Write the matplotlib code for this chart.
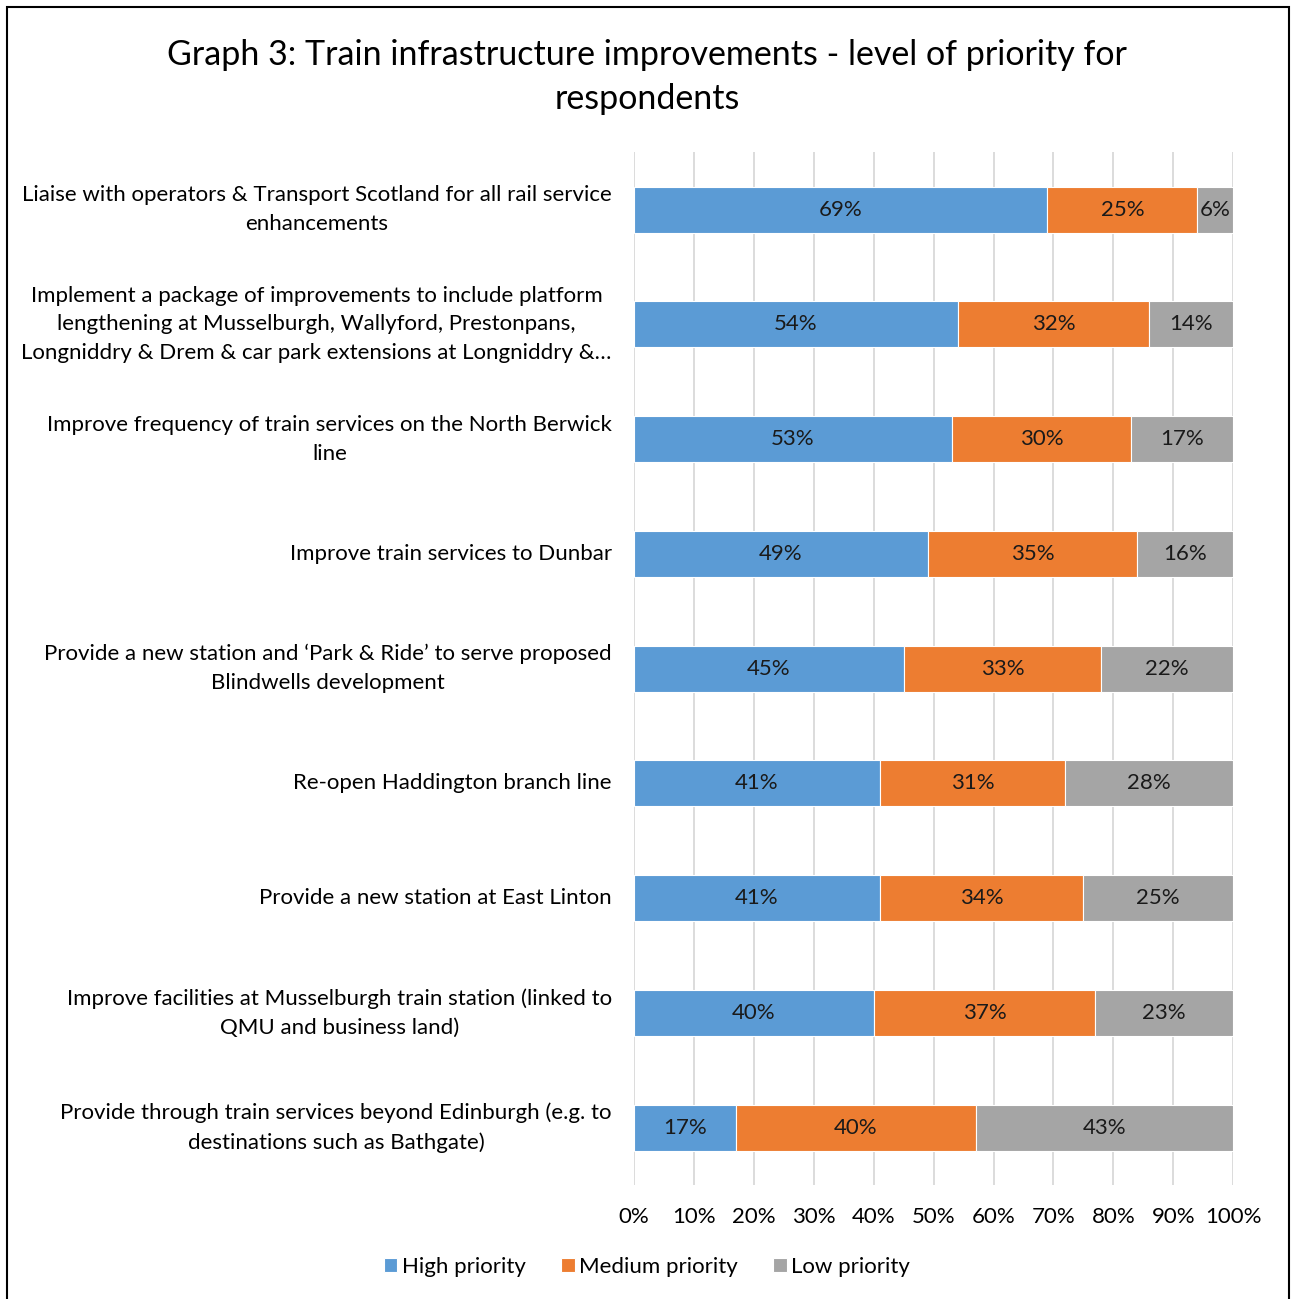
import matplotlib.pyplot as plt
import numpy as np

plt.rcParams['font.family'] = ['Lato', 'DejaVu Sans']

# Survey results (% of respondents)
measures = [
    "Liaise with operators & Transport Scotland for all rail service\nenhancements",
    "Implement a package of improvements to include platform\nlengthening at Musselburgh, Wallyford, Prestonpans,\nLongniddry & Drem & car park extensions at Longniddry &\u2026",
    "Improve frequency of train services on the North Berwick\nline",
    "Improve train services to Dunbar",
    "Provide a new station and \u2018Park & Ride\u2019 to serve proposed\nBlindwells development",
    "Re-open Haddington branch line",
    "Provide a new station at East Linton",
    "Improve facilities at Musselburgh train station (linked to\nQMU and business land)",
    "Provide through train services beyond Edinburgh (e.g. to\ndestinations such as Bathgate)",
]
high = [69, 54, 53, 49, 45, 41, 41, 40, 17]
medium = [25, 32, 30, 35, 33, 31, 34, 37, 40]
low = [6, 14, 17, 16, 22, 28, 25, 23, 43]

series = [("High priority", high, "#5b9bd5"),
          ("Medium priority", medium, "#ed7d31"),
          ("Low priority", low, "#a5a5a5")]

fig = plt.figure(figsize=(12.94, 12.99), dpi=100)
ax = fig.add_axes([0.49, 0.0878, 0.463, 0.795])

y = np.arange(len(measures))
left = np.zeros(len(measures))
for name, vals, col in series:
    vals = np.array(vals, dtype=float)
    ax.barh(y, vals, left=left, height=0.4, color=col, edgecolor='white',
            linewidth=0.8, label=name, zorder=3)
    for yi, l, v in zip(y, left, vals):
        ax.text(l + v / 2, yi, f"{int(v)}%", ha='center', va='center',
                fontsize=16, color='#1a1a1a', zorder=4)
    left += vals

ax.set_xlim(0, 100)
ax.set_ylim(len(measures) - 0.5, -0.5)
ax.set_xticks(np.arange(0, 101, 10))
ax.set_xticklabels([f"{t}%" for t in range(0, 101, 10)], fontsize=16)
ax.set_yticks(y)
ax.set_yticklabels(measures, fontsize=16, multialignment='center', linespacing=1.55,
                   va='center')
ax.tick_params(axis='x', length=0, pad=16)
ax.tick_params(axis='y', length=0, pad=16)
ax.xaxis.grid(True, color='#d9d9d9', linewidth=1.3, zorder=0)
for s in ax.spines.values():
    s.set_visible(False)

fig.suptitle("Graph 3: Train infrastructure improvements - level of priority for\nrespondents",
             fontsize=24.5, y=0.97, linespacing=1.45)

fig.legend(loc='center', bbox_to_anchor=(0.5, 0.025), ncol=3, frameon=False,
           fontsize=16, handlelength=0.6, handleheight=0.6, handletextpad=0.2,
           columnspacing=1.6)

# outer frame
fig.patches.append(plt.Rectangle((0.0055, -0.01), 0.9905, 1.0045, transform=fig.transFigure,
                                 fill=False, edgecolor='black', linewidth=1.5))

fig.savefig("out.png", dpi=100)
